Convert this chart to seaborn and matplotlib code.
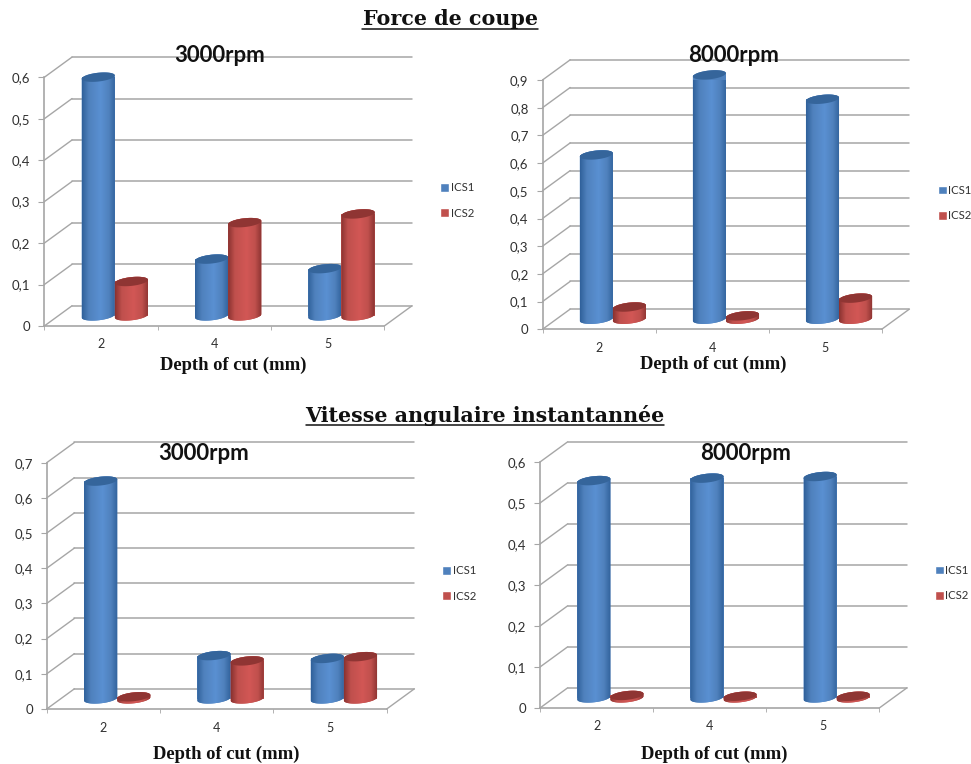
import numpy as np
import pandas as pd
import matplotlib
matplotlib.use('Agg')
import matplotlib.pyplot as plt
from matplotlib.colors import LinearSegmentedColormap
from matplotlib.lines import Line2D
from matplotlib.patches import PathPatch, Polygon
from matplotlib.path import Path
import seaborn as sns

# values
depths = ['2', '4', '5']
series_names = ['ICS1', 'ICS2']

force_3000_ics1 = [0.576, 0.137, 0.114]
force_3000_ics2 = [0.083, 0.225, 0.246]
force_8000_ics1 = [0.593, 0.882, 0.794]
force_8000_ics2 = [0.044, 0.012, 0.076]
speed_3000_ics1 = [0.619, 0.123, 0.115]
speed_3000_ics2 = [0.006, 0.108, 0.120]
speed_8000_ics1 = [0.530, 0.536, 0.540]
speed_8000_ics2 = [0.006, 0.004, 0.004]

ticks_06 = [0, 0.1, 0.2, 0.3, 0.4, 0.5, 0.6]
ticks_07 = [0, 0.1, 0.2, 0.3, 0.4, 0.5, 0.6, 0.7]
ticks_09 = [0, 0.1, 0.2, 0.3, 0.4, 0.5, 0.6, 0.7, 0.8, 0.9]

W, H = 971, 764
BLUE, RED = '#4f81bd', '#c0504d'
LINE = '#a6a6a6'
DEPTH_X, DEPTH_Y = 27.7, 20.2  # px, the fake 3d depth of the box
ELL_B, ELL_SHEAR = 4.4, 1.7  # px

sns.set_style('white')
plt.rcParams['font.family'] = ['Lato', 'DejaVu Sans']

fig = plt.figure(figsize=(W / 100, H / 100), dpi=100)


def figxy(x, y):
    return x / W, 1 - y / H


def cylinder(ax, bar, color, light, top_color, dark, ppx, ppy, z):
    # turn a flat seaborn bar into the excel style cylinder
    x0, w = bar.get_x(), bar.get_width()
    y0, h = bar.get_y(), bar.get_height()
    cx = x0 + w / 2
    t = np.linspace(0, 2 * np.pi, 80)

    def ring(yc, ts):
        return np.column_stack([cx + w / 2 * np.cos(ts),
                                yc + (ELL_B * np.sin(ts) + ELL_SHEAR * np.cos(ts)) * ppy])

    low = ring(y0, np.linspace(np.pi, 2 * np.pi, 40))
    up = ring(y0 + h, np.linspace(0, np.pi, 40))
    outline = np.vstack([low, up, low[:1]])
    clip = PathPatch(Path(outline), facecolor=color, edgecolor='none', zorder=z, clip_on=False)
    ax.add_patch(clip)
    cmap = LinearSegmentedColormap.from_list(
        'c', [(0, dark), (0.2, color), (0.55, light), (0.8, color), (1, dark)], 256)
    grad = np.linspace(0, 1, 128).reshape(1, -1)
    ybot = y0 - 10 * ppy
    ytop = y0 + h + 10 * ppy
    im = ax.imshow(grad, extent=[x0, x0 + w, ybot, ytop], aspect='auto', cmap=cmap,
                   zorder=z + 0.1, interpolation='bilinear')
    im.set_clip_path(clip)
    ax.add_patch(Polygon(ring(y0 + h, t), closed=True, facecolor=top_color,
                         edgecolor='none', zorder=z + 0.2, clip_on=False))
    bar.set_clip_on(False)
    bar.set_edgecolor('none')
    bar.set_zorder(z - 0.05)


def panel(rect, ics1, ics2, ticks, title, title_xy, xlabel_xy, legend_xy):
    left, right, ytop, ybottom = rect
    ax = fig.add_axes([left / W, 1 - ybottom / H, (right - left) / W, (ybottom - ytop) / H])
    df = pd.DataFrame({
        'depth': depths * 2,
        'value': ics1 + ics2,
        'series': [series_names[0]] * 3 + [series_names[1]] * 3,
    })
    sns.barplot(data=df, x='depth', y='value', hue='series', order=depths,
                palette=[BLUE, RED], width=0.585, gap=0, saturation=1, ax=ax)
    ax.set_xlim(-0.5, 2.5)
    ax.set_ylim(ticks[0], ticks[-1])
    ppx = 3 / (right - left)
    ppy = ticks[-1] / (ybottom - ytop)
    dx, dy = DEPTH_X * ppx, DEPTH_Y * ppy

    # back wall and the diagonals
    for t in ticks:
        ax.plot([-0.5 + dx, 2.5 + dx], [t + dy, t + dy], color=LINE, lw=1.1, clip_on=False, zorder=1)
        ax.plot([-0.5, -0.5 + dx], [t, t + dy], color=LINE, lw=1.0, clip_on=False, zorder=1)
    ax.plot([2.5, 2.5 + dx], [0, dy], color=LINE, lw=1.0, clip_on=False, zorder=1)

    bars = []
    looks = zip(ax.containers, [BLUE, RED], ['#5a90d2', '#d25755'],
                ['#35659b', '#8f3533'], ['#30619a', '#8a3230'])
    for cont, col, light, top, dark in looks:
        for b in cont:
            bars.append((b, col, light, top, dark))
    bars.sort(key=lambda r: r[0].get_x())
    for i, (b, col, light, top, dark) in enumerate(bars):
        b.set_x(b.get_x() + dx / 2)
        b.set_y(b.get_y() + dy / 2)
        cylinder(ax, b, col, light, top, dark, ppx, ppy, 3 + i)
    ax.set_xlim(-0.5, 2.5)
    ax.set_ylim(ticks[0], ticks[-1])

    sns.despine(ax=ax)
    for s in ['left', 'bottom']:
        ax.spines[s].set_color(LINE)
        ax.spines[s].set_linewidth(1.2)
    ax.set_yticks(ticks)
    ax.set_yticklabels([str(t).replace('.', ',') for t in ticks])
    ax.set_xticks([0, 1, 2])
    ax.set_xticklabels(depths)
    ax.set_xticks([-0.5, 0.5, 1.5, 2.5], minor=True)
    ax.tick_params(axis='x', which='major', length=0, pad=9, labelsize=9, labelcolor='#303030')
    ax.tick_params(axis='x', which='minor', length=3, color=LINE, bottom=True)
    ax.tick_params(axis='y', length=4, color=LINE, left=True, pad=6, labelsize=9.5, labelcolor='#303030')
    ax.set_xlabel('')
    ax.set_ylabel('')
    ax.patch.set_alpha(0)

    sns.move_legend(ax, 'center left', bbox_to_anchor=figxy(*legend_xy), bbox_transform=fig.transFigure,
                    title=None, frameon=False, fontsize=8.2, handlelength=0.8, handleheight=0.8,
                    handletextpad=0.15, labelspacing=1.25, borderpad=0, borderaxespad=0)
    for txt in ax.get_legend().get_texts():
        txt.set_color('#303030')

    fig.text(*figxy(*title_xy), title, ha='center', va='center', fontsize=16, fontweight='bold',
             color='#111111', zorder=20)
    fig.text(*figxy(*xlabel_xy), 'Depth of cut (mm)', ha='center', va='center', fontsize=13.4,
             fontweight='bold', family='Liberation Serif', color='#111111')


panel((44.3, 384.3, 77.3, 326), force_3000_ics1, force_3000_ics2, ticks_06, '3000rpm',
      (220, 56), (233, 365), (440, 200.5))
panel((542.5, 881.7, 80, 329.3), force_8000_ics1, force_8000_ics2, ticks_09, '8000rpm',
      (734, 56), (713, 364), (937.5, 203))
panel((46.7, 386.7, 462.7, 709), speed_3000_ics1, speed_3000_ics2, ticks_07, '3000rpm',
      (204, 454), (226, 754), (442, 583.5))
panel((540, 879.3, 462, 708), speed_8000_ics1, speed_8000_ics2, ticks_06, '8000rpm',
      (746, 454), (714, 754), (934.5, 583))

# section headings with their underline
for label, xa, xb, yc, yu in [('Force de coupe', 362, 538, 19, 29),
                              ('Vitesse angulaire instantannée', 306, 664, 416, 425)]:
    fig.text(*figxy((xa + xb) / 2, yc), label, ha='center', va='center', fontsize=14.9,
             fontweight='bold', family='DejaVu Serif', color='#111111')
    fig.add_artist(Line2D([xa / W, xb / W], [1 - yu / H, 1 - yu / H], color='#111111', lw=1.1))

fig.savefig('out.png', dpi=100, facecolor='white')
